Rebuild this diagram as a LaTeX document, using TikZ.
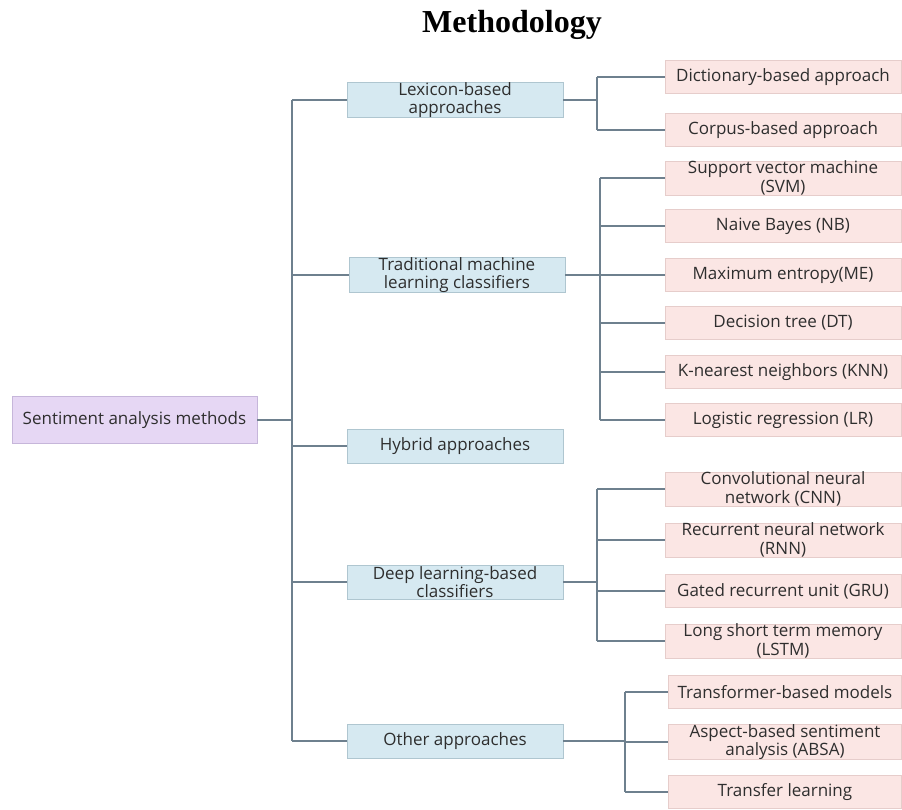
\documentclass[tikz,border=0pt]{standalone}
\usepackage{fontspec}
\setmainfont{Open Sans}
\newfontfamily\titlefont{Liberation Serif}
\definecolor{rootfill}{HTML}{E6D7F4}
\definecolor{rootdraw}{HTML}{C6B6DA}
\definecolor{bluefill}{HTML}{D6E9F1}
\definecolor{bluedraw}{HTML}{AFC6D0}
\definecolor{pinkfill}{HTML}{FBE6E4}
\definecolor{pinkdraw}{HTML}{E6CDCB}
\definecolor{linecol}{HTML}{6E808E}
\definecolor{txt}{HTML}{2E2E2E}
\tikzset{
  base/.style={rectangle, inner sep=0pt, align=center, text=txt,
     font=\fontsize{17}{18.5}\selectfont, line width=0.8pt},
  rootbox/.style={base, fill=rootfill, draw=rootdraw, minimum width=245, minimum height=47},
  catbox/.style={base, fill=bluefill, draw=bluedraw, minimum width=216, minimum height=34},
  leafbox/.style={base, fill=pinkfill, draw=pinkdraw, minimum width=236, minimum height=33},
  conn/.style={draw=linecol, line width=1.4pt},
}
\begin{document}
\begin{tikzpicture}[x=1pt, y=-1pt]
\useasboundingbox (0,0) rectangle (902,809);
\fill[white] (0,0) rectangle (902,809);
\node[font=\titlefont\bfseries\fontsize{32}{36}\selectfont, anchor=base] (title) at (512,32) {Methodology};

\node[rootbox] (root) at (134.5,420) {Sentiment analysis methods};

\node[catbox] (lex) at (455,100) {Lexicon-based\\approaches};
\node[catbox] (trad) at (457,275) {Traditional machine\\learning classifiers};
\node[catbox] (hyb) at (455,446) {Hybrid approaches};
\node[catbox] (deep) at (455,582) {Deep learning-based\\classifiers};
\node[catbox] (oth) at (455,741) {Other approaches};

\node[leafbox] (dict) at (783,77) {Dictionary-based approach};
\node[leafbox] (corp) at (783,130) {Corpus-based approach};

\node[leafbox] (svm) at (783,178) {Support vector machine\\(SVM)};
\node[leafbox] (nb) at (783,226) {Naive Bayes (NB)};
\node[leafbox] (me) at (783,275) {Maximum entropy(ME)};
\node[leafbox] (dt) at (783,323) {Decision tree (DT)};
\node[leafbox] (knn) at (783,372) {K-nearest neighbors (KNN)};
\node[leafbox] (lr) at (783,420) {Logistic regression (LR)};

\node[leafbox] (cnn) at (783,489) {Convolutional neural\\network (CNN)};
\node[leafbox] (rnn) at (783,540) {Recurrent neural network\\(RNN)};
\node[leafbox] (gru) at (783,591) {Gated recurrent unit (GRU)};
\node[leafbox] (lstm) at (783,641) {Long short term memory\\(LSTM)};

\node[leafbox, minimum width=233] (tfm) at (785,692) {Transformer-based models};
\node[leafbox, minimum width=233] (absa) at (785,742) {Aspect-based sentiment\\analysis (ABSA)};
\node[leafbox, minimum width=233] (trl) at (785,792) {Transfer learning};

% trunk
\coordinate (tx) at (292,0);
\draw[conn] (lex.west -| tx) -- (oth.west -| tx);
\draw[conn] (root.east) -- (root.east -| tx);
\foreach \n in {lex,trad,hyb,deep,oth} \draw[conn] (\n.west -| tx) -- (\n.west);

% lexicon branch
\coordinate (bx1) at (597,0);
\draw[conn] (lex.east) -- (lex.east -| bx1);
\draw[conn] (dict.west -| bx1) -- (corp.west -| bx1);
\foreach \n in {dict,corp} \draw[conn] (\n.west -| bx1) -- (\n.west);

% traditional branch
\coordinate (bx2) at (600,0);
\draw[conn] (trad.east) -- (trad.east -| bx2);
\draw[conn] (svm.west -| bx2) -- (lr.west -| bx2);
\foreach \n in {svm,nb,me,dt,knn,lr} \draw[conn] (\n.west -| bx2) -- (\n.west);

% deep branch
\coordinate (bx3) at (597,0);
\draw[conn] (deep.east) -- (deep.east -| bx3);
\draw[conn] (cnn.west -| bx3) -- (lstm.west -| bx3);
\foreach \n in {cnn,rnn,gru,lstm} \draw[conn] (\n.west -| bx3) -- (\n.west);

% other branch
\coordinate (bx4) at (625,0);
\draw[conn] (oth.east) -- (oth.east -| bx4);
\draw[conn] (tfm.west -| bx4) -- (trl.west -| bx4);
\foreach \n in {tfm,absa,trl} \draw[conn] (\n.west -| bx4) -- (\n.west);
\end{tikzpicture}
\end{document}
